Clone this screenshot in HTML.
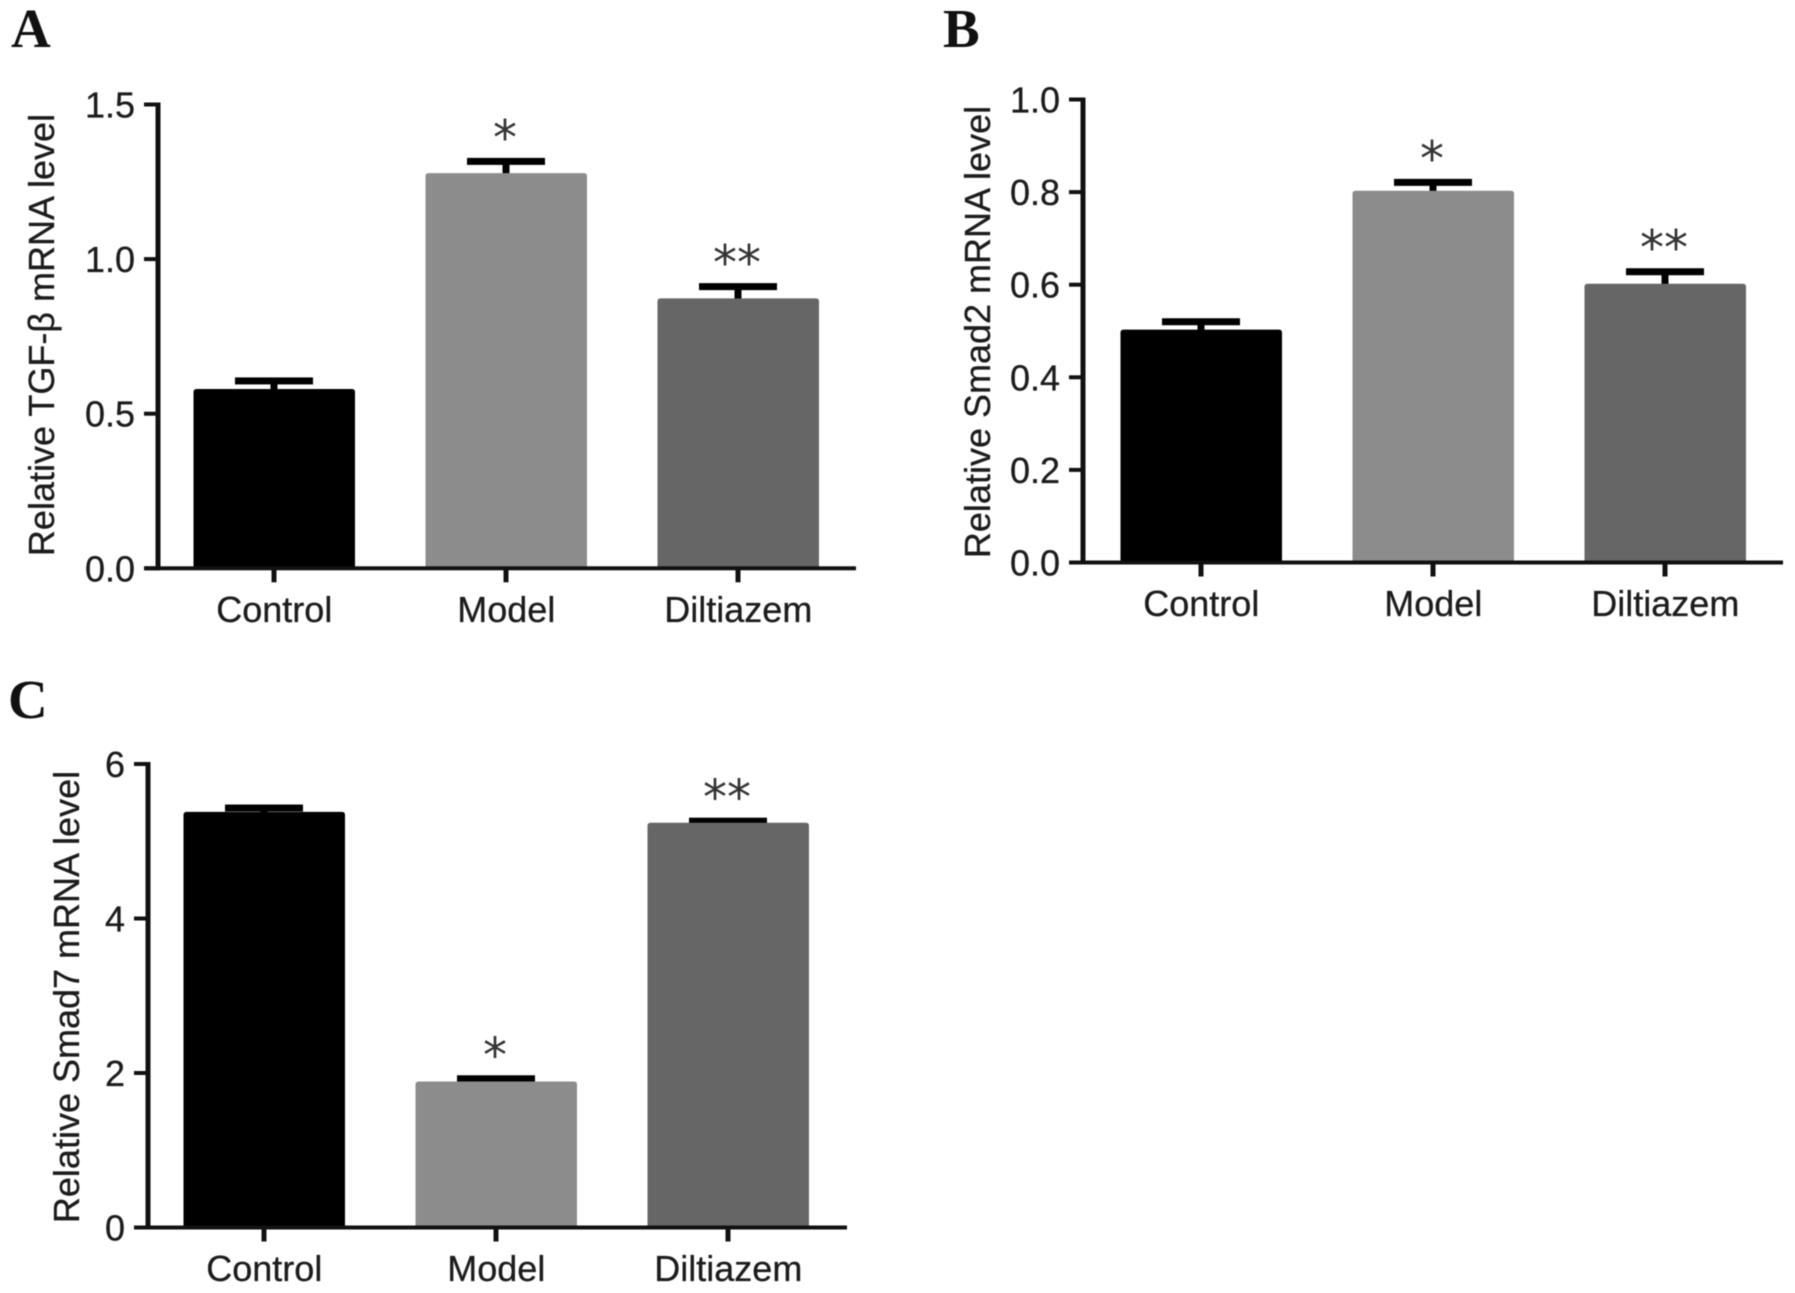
<!DOCTYPE html>
<html lang="en">
<head>
<meta charset="utf-8">
<title>Relative mRNA levels</title>
<style>
  html, body { margin: 0; padding: 0; background: #fff; }
  svg { display: block; }
  text { font-family: "Liberation Sans", sans-serif; fill: #1c1c1c; }
  .soft { filter: blur(0.55px); }
</style>
</head>
<body>
<svg id="figure" width="1795" height="1293" viewBox="0 0 1795 1293" xmlns="http://www.w3.org/2000/svg">
  <rect width="1795" height="1293" fill="#ffffff"/>
</svg>
<script>
const categories = ["Control", "Model", "Diltiazem"];
const barColors = ["#000000", "#8c8c8c", "#666666"];
const significance = ["", "*", "**"];
const significanceC = ["", "*", "**"];

const tgfValues = [0.58, 1.278, 0.873];
const tgfErrors = [0.026, 0.038, 0.038];
const tgfTicks = ["0.0", "0.5", "1.0", "1.5"];

const smad2Values = [0.503, 0.803, 0.602];
const smad2Errors = [0.017, 0.018, 0.026];
const smad2Ticks = ["0.0", "0.2", "0.4", "0.6", "0.8", "1.0"];

const smad7Values = [5.38, 1.89, 5.24];
const smad7Errors = [0.05, 0.035, 0.02];
const smad7Ticks = ["0", "2", "4", "6"];

const SVG_NS = "http://www.w3.org/2000/svg";
const figure = document.getElementById("figure");

function make(tag, attrs, parent) {
  const el = document.createElementNS(SVG_NS, tag);
  for (const k in attrs) el.setAttribute(k, attrs[k]);
  parent.appendChild(el);
  return el;
}

function drawPanel(p) {
  const g = make("g", { class: "soft" }, figure);
  
  

  const tickNums = p.ticks.map(Number);
  const yMax = Math.max.apply(null, tickNums);
  const yScale = v => p.base - (v / yMax) * (p.base - p.top);
  const xScale = i => p.firstCenter + i * p.step;

  const letter = make("text", { x: p.letterX, y: p.letterY, "font-size": 55, "font-weight": "bold", style: 'font-family:"Liberation Serif",serif;fill:#111' }, g);
  letter.textContent = p.letter;
  
  

  p.values.forEach((v, i) => {
    const cx = xScale(i);
    const barTop = yScale(v);
    const capY = yScale(v + p.errors[i]);

    const stem = make("rect", { x: cx - 3.5, y: capY, width: 7, height: barTop + 4 - capY, fill: "#000" }, g);
    
    

    const cap = make("rect", { x: cx - 39, y: capY - 3.5, width: 78, height: 7, fill: "#000" }, g);
    
    

    const bar = make("path", {
      d: "M" + (cx - 80.5) + " " + p.base + "V" + (barTop + 3) + "q0 -3 3 -3H" + (cx + 78) + "q3 0 3 3V" + p.base + "Z",
      fill: barColors[i]
    }, g);
    
    

    if (p.stars[i]) {
      const star = make("text", {
        x: cx - 1, y: capY - 7, "font-size": 48, "text-anchor": "middle",
        style: 'font-family:"DejaVu Sans",sans-serif;fill:#333'
      }, g);
      star.textContent = p.stars[i];
      
      
    }

    const tick = make("rect", { x: cx - 2.5, y: p.base, width: 5, height: 14, fill: "#111" }, g);
    
    

    const label = make("text", { x: cx + 0.3, y: p.base + 53.5, "font-size": 36, "text-anchor": "middle", stroke: "#1c1c1c", "stroke-width": 0.3 }, g);
    label.textContent = categories[i];
    
    
  });

  const yAxis = make("rect", { x: p.axisX - 2.5, y: p.top - 2, width: 5, height: p.base - p.top + 4, fill: "#111" }, g);
  
  

  const xAxis = make("rect", { x: p.axisX - 14, y: p.base - 2, width: p.right - p.axisX + 14, height: 4, fill: "#111" }, g);
  
  

  p.ticks.forEach((t, i) => {
    const y = yScale(tickNums[i]);
    const tick = make("rect", { x: p.axisX - 14, y: y - 2, width: 14, height: 4, fill: "#111" }, g);
    
    

    const label = make("text", { x: p.axisX - 23, y: y + 13, "font-size": 36, "text-anchor": "end", stroke: "#1c1c1c", "stroke-width": 0.3 }, g);
    label.textContent = t;
    
    
  });

  const title = make("text", {
    x: 0, y: 0, "font-size": 36, "text-anchor": "middle", stroke: "#1c1c1c", "stroke-width": 0.3,
    transform: "translate(" + p.titleX + " " + p.titleY + ") rotate(-90)"
  }, g);
  title.textContent = p.title;
  
  
}

drawPanel({
  id: "a", letter: "A", letterX: 11, letterY: 47,
  title: "Relative TGF-\u03B2 mRNA level", titleX: 54, titleY: 335,
  values: tgfValues, errors: tgfErrors, ticks: tgfTicks, stars: significance,
  axisX: 158, top: 104.5, base: 568.3, right: 856,
  firstCenter: 274, step: 232
});

drawPanel({
  id: "b", letter: "B", letterX: 943, letterY: 47,
  title: "Relative Smad2 mRNA level", titleX: 990, titleY: 332,
  values: smad2Values, errors: smad2Errors, ticks: smad2Ticks, stars: significance,
  axisX: 1083, top: 99.5, base: 562.5, right: 1783,
  firstCenter: 1201, step: 232
});

drawPanel({
  id: "c", letter: "C", letterX: 8, letterY: 718,
  title: "Relative Smad7 mRNA level", titleX: 79, titleY: 997,
  values: smad7Values, errors: smad7Errors, ticks: smad7Ticks, stars: significanceC,
  axisX: 148, top: 764, base: 1227.5, right: 847,
  firstCenter: 264, step: 232
});
</script>
</body>
</html>
